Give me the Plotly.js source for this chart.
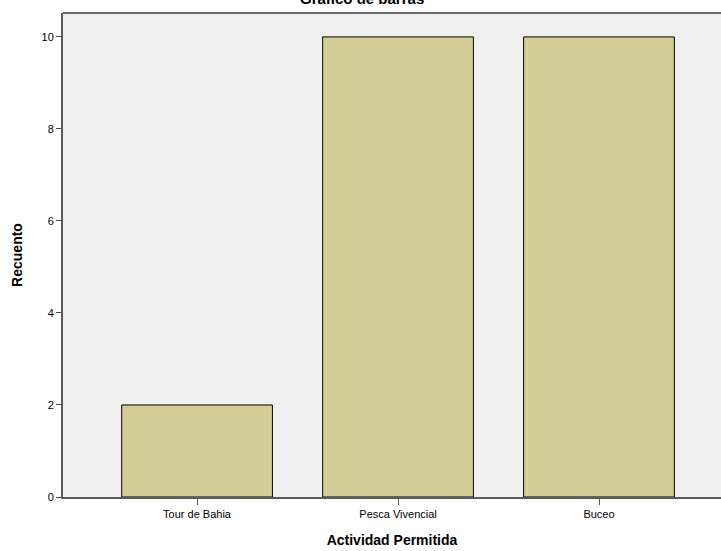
<!DOCTYPE html>
<html>
<head>
<meta charset="utf-8">
<script src="https://cdn.plot.ly/plotly-3.0.1.min.js"></script>
<style>html,body{margin:0;padding:0;background:#fff;}#chart{width:721px;height:551px;}</style>
</head>
<body>
<div id="chart"></div>
<script>
const categories = ["Tour de Bahia", "Pesca Vivencial", "Buceo"];
const counts = [2, 10, 10];
const yTickVals = [0, 2, 4, 6, 8, 10];
const yTickText = ["0", "2", "4", "6", "8", "10"];

const font = "Liberation Sans, Arial, sans-serif";

const trace = {
  type: "bar",
  x: [0, 1, 2],
  y: counts,
  width: 0.75,
  marker: { color: "#D3CE97", line: { color: "#000000", width: 1 } },
  hoverinfo: "none"
};

const layout = {
  width: 721,
  height: 551,
  margin: { l: 63, r: 0, t: 13, b: 54 },
  paper_bgcolor: "#FFFFFF",
  plot_bgcolor: "#F0F0F0",
  showlegend: false,
  font: { family: font, size: 11, color: "#000" },
  xaxis: {
    range: [-0.667, 2.607],
    tickvals: [0, 1, 2],
    ticktext: categories,
    ticks: "outside",
    ticklen: 6,
    tickwidth: 1,
    tickcolor: "#555",
    showline: true,
    linecolor: "#5a5a5a",
    linewidth: 2,
    showgrid: false,
    zeroline: false,
    tickfont: { family: font, size: 11, color: "#000" },
    title: { text: "Actividad Permitida", font: { family: font, size: 14, color: "#000", weight: "bold" }, standoff: 16 }
  },
  yaxis: {
    range: [0, 10.52],
    tickvals: yTickVals,
    ticktext: yTickText,
    ticks: "outside",
    ticklen: 5,
    tickwidth: 1,
    tickcolor: "#444",
    showline: true,
    linecolor: "#5a5a5a",
    linewidth: 2,
    showgrid: false,
    zeroline: false,
    tickfont: { family: font, size: 11, color: "#000" },
    title: { text: "Recuento", font: { family: font, size: 14, color: "#000", weight: "bold" }, standoff: 16 }
  },
  shapes: [
    { type: "line", xref: "paper", yref: "paper", x0: 0, x1: 1, y0: 1, y1: 1, line: { color: "#6a6a6a", width: 2 } }
  ],
  annotations: [
    { text: "<b>Gráfico de barras</b>", xref: "paper", yref: "paper", x: 0.4544, y: 1.029, xanchor: "center", yanchor: "middle", showarrow: false, font: { family: font, size: 15, color: "#000" } }
  ]
};

Plotly.newPlot("chart", [trace], layout, { displayModeBar: false, staticPlot: true });
</script>
</body>
</html>
